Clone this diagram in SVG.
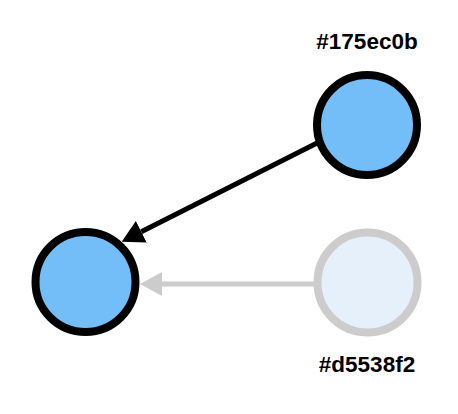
<svg xmlns="http://www.w3.org/2000/svg" width="458" height="414" viewBox="0 0 458 414">
<defs>
<style>
.lbl{font-family:"Liberation Sans",Arial,sans-serif;font-weight:bold;font-size:22.5px;fill:#000;text-anchor:middle}
.node{fill:#73bef8;stroke:#000;stroke-width:8}
.ghost{fill:#e6f0fa;stroke:#cccccc;stroke-width:8}
.edge{fill:none;stroke-width:5}
</style>
<marker id="ab" markerUnits="userSpaceOnUse" markerWidth="22" markerHeight="24" refX="0" refY="12" orient="auto"><path d="M0,0 L22,12 L0,24 z" fill="#000"/></marker>
<marker id="ag" markerUnits="userSpaceOnUse" markerWidth="22" markerHeight="24" refX="0" refY="12" orient="auto"><path d="M0,0 L22,12 L0,24 z" fill="#cccccc"/></marker>
</defs>
<rect width="458" height="414" fill="#fff"/>
<g id="connectors">
<line class="edge" x1="326" y1="138.5" x2="141.3" y2="231.8" stroke="#000" marker-end="url(#ab)"/>
<line class="edge" x1="318" y1="284" x2="162" y2="284" stroke="#cccccc" marker-end="url(#ag)"/>
</g>
<g id="node-175ec0b">
<circle class="node" cx="367" cy="125" r="50"/>
<text class="lbl" x="367" y="49">#175ec0b</text>
</g>
<g id="node-target">
<circle class="node" cx="85.5" cy="282" r="50"/>
</g>
<g id="node-d5538f2">
<circle class="ghost" cx="367.5" cy="282.5" r="50"/>
<text class="lbl" x="367" y="372">#d5538f2</text>
</g>
</svg>
